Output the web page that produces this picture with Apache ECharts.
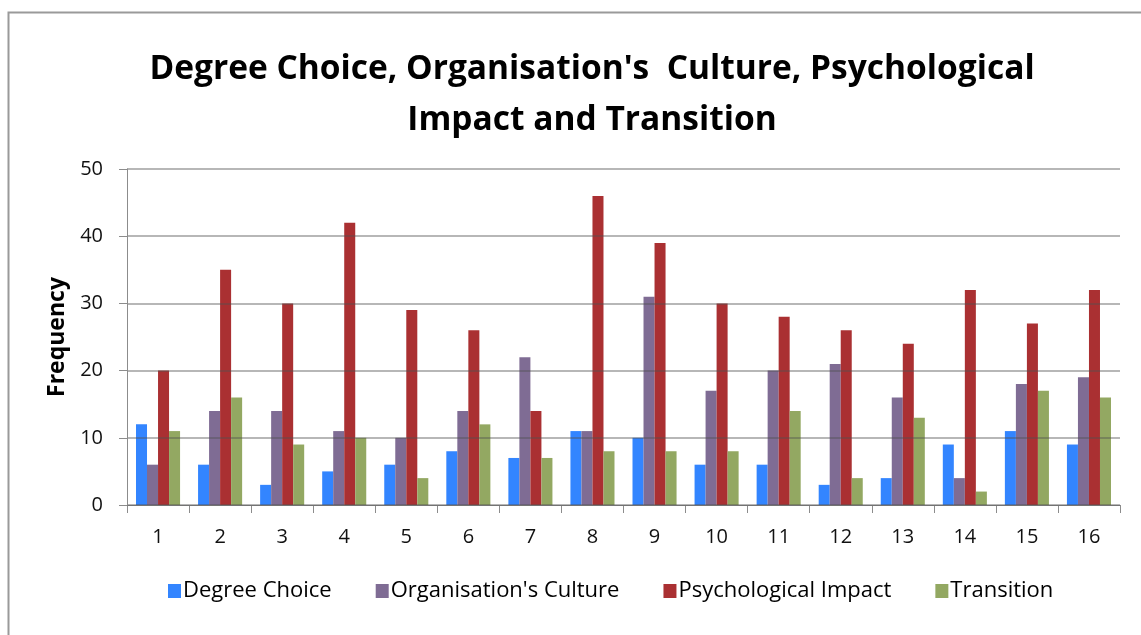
<!DOCTYPE html>
<html>
<head>
<meta charset="utf-8">
<script src="https://cdn.jsdelivr.net/npm/echarts@6/dist/echarts.min.js"></script>
<style>
html,body{margin:0;padding:0;background:#fff;}
#chart{width:1141px;height:635px;}
</style>
</head>
<body>
<div id="chart"></div>
<script>
const categories = ['1','2','3','4','5','6','7','8','9','10','11','12','13','14','15','16'];
const degreeChoice = [12,6,3,5,6,8,7,11,10,6,6,3,4,9,11,9];
const orgCulture = [6,14,14,11,10,14,22,11,31,17,20,21,16,4,18,19];
const psychImpact = [20,35,30,42,29,26,14,46,39,30,28,26,24,32,27,32];
const transition = [11,16,9,10,4,12,7,8,8,8,14,4,13,2,17,16];
const seriesNames = ['Degree Choice', "Organisation's Culture", 'Psychological Impact', 'Transition'];
const yTicks = [0, 50, 10];

const FONT = "'Open Sans',sans-serif";
const colors = ['#3385FF', '#7F6C94', '#AA3032', '#93A862'];
const chart = echarts.init(document.getElementById('chart'));
const data = [degreeChoice, orgCulture, psychImpact, transition];
chart.setOption({
  animation: false,
  color: colors,
  graphic: [{
    type: 'rect', left: 6, top: 10, z: 100, silent: true,
    shape: {width: 1150, height: 624},
    style: {fill: 'none', stroke: '#9a9a9a', lineWidth: 2}
  }],
  title: {
    text: "Degree Choice, Organisation's  Culture, Psychological\nImpact and Transition",
    left: 587, textAlign: 'center', top: 39,
    textStyle: {fontFamily: FONT, fontSize: 33.5, fontWeight: 'bold', color: '#000', lineHeight: 51}
  },
  legend: {
    data: seriesNames, top: 575, left: 163,
    itemWidth: 13, itemHeight: 14, itemGap: 44, icon: 'rect',
    textStyle: {fontFamily: FONT, fontSize: 22, color: '#000', padding: [0,0,0,-3]}
  },
  grid: {left: 127, right: 21, top: 169, bottom: 130},
  xAxis: {
    type: 'category', data: categories,
    axisLine: {lineStyle: {color: '#8c8c8c', width: 1}},
    axisTick: {show: true, length: 8, lineStyle: {color: '#8c8c8c'}},
    axisLabel: {fontFamily: FONT, fontSize: 20, color: '#111', margin: 22}
  },
  yAxis: {
    type: 'value', min: yTicks[0], max: yTicks[1], interval: yTicks[2], z: 3,
    name: 'Frequency', nameLocation: 'middle', nameGap: 58, nameRotate: 90,
    nameTextStyle: {fontFamily: FONT, fontSize: 23, fontWeight: 'bold', color: '#000'},
    axisLine: {show: true, lineStyle: {color: '#8c8c8c'}},
    axisTick: {show: true, length: 8, lineStyle: {color: '#8c8c8c'}},
    axisLabel: {fontFamily: FONT, fontSize: 20, color: '#111', margin: 24},
    splitLine: {lineStyle: {color: 'rgba(80,80,80,0.55)', width: 1.5}}
  },
  series: seriesNames.map((n, i) => ({
    name: n, type: 'bar', data: data[i],
    barGap: '0%', barCategoryGap: '29%',
    itemStyle: {color: colors[i]}
  }))
});
</script>
</body>
</html>
